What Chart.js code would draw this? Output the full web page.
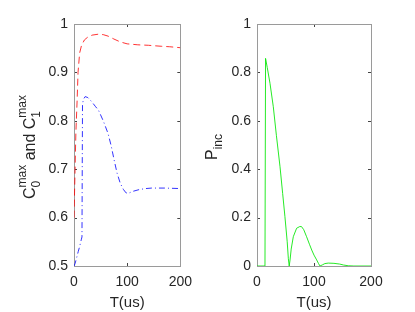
<!DOCTYPE html>
<html>
<head>
<meta charset="utf-8">
<script src="https://cdn.jsdelivr.net/npm/chart.js@4.4.0/dist/chart.umd.min.js"></script>
<style>
    html, body { margin: 0; padding: 0; background: #fff; }
    #wrap { position: relative; width: 415px; height: 312px; }
    .box { position: absolute; top: 0; height: 312px; }
</style>
</head>
<body>
<div id="wrap">
    <div class="box" style="left:0;width:200px"><canvas id="chartC" width="200" height="312"></canvas></div>
    <div class="box" style="left:200px;width:215px"><canvas id="chartP" width="215" height="312"></canvas></div>
</div>
<script>
// C0max (red, dashed)
const c0T   = [0, 1.8, 3.5, 5.9, 7.6, 10.6, 14, 19.5, 26, 34, 46, 55, 64, 75, 87, 100, 120, 140, 164, 180, 200];
const c0Val = [0.6, 0.69, 0.775, 0.843, 0.9, 0.94, 0.955, 0.967, 0.973, 0.977, 0.979, 0.978, 0.975, 0.969, 0.963, 0.959, 0.957, 0.956, 0.954, 0.953, 0.951];

// C1max (blue, dash-dot)
const c1T   = [0, 2, 4.7, 8, 10.6, 13.6, 15, 15.5, 16, 18, 21, 26, 33, 40, 46, 55, 64, 70, 75.5, 81, 87, 93, 98, 102, 110, 123, 135, 146, 170, 200];
const c1Val = [0.5, 0.505, 0.516, 0.53, 0.54, 0.554, 0.56, 0.7, 0.835, 0.845, 0.85, 0.848, 0.84, 0.83, 0.822, 0.8, 0.774, 0.748, 0.719, 0.692, 0.671, 0.658, 0.651, 0.65, 0.654, 0.658, 0.66, 0.661, 0.661, 0.66];

// Pinc (green)
const pT   = [0, 14, 15, 18, 22.8, 28.6, 34, 40.4, 45, 49, 53, 55, 56.5, 58, 60, 63.7, 69.5, 75, 78, 82, 87, 92, 96, 100, 104.7, 108, 110.5, 115, 119, 125, 135, 145, 152, 160, 170, 200];
const pVal = [0, 0, 0.858, 0.82, 0.755, 0.658, 0.54, 0.41, 0.3, 0.204, 0.1, 0.03, 0, 0.025, 0.07, 0.121, 0.156, 0.163, 0.163, 0.15, 0.121, 0.09, 0.066, 0.045, 0.025, 0.01, 0, 0.005, 0.01, 0.012, 0.011, 0.008, 0.004, 0.001, 0, 0];

// tick labels
const xTicks = [0, 100, 200];
const cTicks = [0.5, 0.6, 0.7, 0.8, 0.9, 1];
const pTicks = [0, 0.2, 0.4, 0.6, 0.8, 1];

const FONT = '"Liberation Sans", Arial, sans-serif';
const TXT = '#262626';

function toPoints(xs, ys) {
    return xs.map((x, i) => ({ x: x, y: ys[i] }));
}

// box + inward ticks, matlab style
const framePlugin = {
    id: 'frame',
    beforeDatasetsDraw(chart) {
        const ctx = chart.ctx, a = chart.chartArea;
        const xs = chart.scales.x, ys = chart.scales.y;
        ctx.save();
        ctx.strokeStyle = '#444';
        ctx.lineWidth = 1;
        ctx.beginPath();
        xs.ticks.forEach(t => {
            const px = Math.round(xs.getPixelForValue(t.value)) + 0.5;
            ctx.moveTo(px, a.bottom); ctx.lineTo(px, a.bottom - 3);
            ctx.moveTo(px, a.top); ctx.lineTo(px, a.top + 3);
        });
        ys.ticks.forEach(t => {
            const py = Math.round(ys.getPixelForValue(t.value)) + 0.5;
            ctx.moveTo(a.left, py); ctx.lineTo(a.left + 3, py);
            ctx.moveTo(a.right, py); ctx.lineTo(a.right - 3, py);
        });
        ctx.stroke();
        ctx.strokeStyle = '#9a9a9a';
        ctx.strokeRect(Math.round(a.left) + 0.5, Math.round(a.top) + 0.5,
            Math.round(a.right - a.left), Math.round(a.bottom - a.top));
        ctx.restore();
    }
};

// rotated y label with sub/superscripts
function drawYLabel(chart, baseX, segs) {
    const ctx = chart.ctx, a = chart.chartArea;
    const big = '16px ' + FONT;
    const small = '12px ' + FONT;
    ctx.save();
    let total = 0;
    segs.forEach(s => {
        ctx.font = big;
        s.w = ctx.measureText(s.t).width;
        ctx.font = small;
        s.w2 = Math.max(s.sub ? ctx.measureText(s.sub).width : 0, s.sup ? ctx.measureText(s.sup).width : 0);
        total += s.w + s.w2;
    });
    ctx.translate(baseX, (a.top + a.bottom) / 2 + 2);
    ctx.rotate(-Math.PI / 2);
    ctx.fillStyle = TXT;
    ctx.textAlign = 'left';
    ctx.textBaseline = 'alphabetic';
    let x = -total / 2;
    segs.forEach(s => {
        ctx.font = big;
        ctx.fillText(s.t, x, 0);
        x += s.w;
        ctx.font = small;
        if (s.sub) ctx.fillText(s.sub, x, 5);
        if (s.sup) ctx.fillText(s.sup, x, -9);
        x += s.w2;
    });
    ctx.restore();
}

function makeChart(id, datasets, yTicks, axisW, padRight, label) {
    const yMin = yTicks[0], yMax = yTicks[yTicks.length - 1];
    return new Chart(document.getElementById(id), {
        type: 'line',
        data: { datasets: datasets },
        options: {
            responsive: false,
            animation: false,
            layout: { padding: { top: 24, right: padRight, left: 0, bottom: 0 } },
            plugins: { legend: { display: false }, tooltip: { enabled: false } },
            elements: { point: { radius: 0 }, line: { tension: 0, borderWidth: 1 } },
            scales: {
                x: {
                    type: 'linear', min: 0, max: 200,
                    afterBuildTicks: s => { s.ticks = xTicks.map(v => ({ value: v })); },
                    afterFit: s => { s.height = 46; },
                    grid: { display: false, drawTicks: false },
                    border: { display: false },
                    ticks: { padding: 8, color: TXT, font: { size: 14, family: FONT }, maxRotation: 0 },
                    title: { display: true, text: 'T(us)', color: TXT, font: { size: 15, family: FONT }, padding: { top: 0, bottom: 0 } }
                },
                y: {
                    type: 'linear', min: yMin, max: yMax,
                    afterBuildTicks: s => { s.ticks = yTicks.map(v => ({ value: v })); },
                    afterFit: s => { s.width = axisW; },
                    grid: { display: false, drawTicks: false },
                    border: { display: false },
                    ticks: { padding: 6, color: TXT, font: { size: 14, family: FONT },
                        callback: v => String(+Number(v).toFixed(1)) }
                }
            }
        },
        plugins: [framePlugin, {
            id: 'ylabel',
            afterDraw(chart) { drawYLabel(chart, label.x, label.segs); }
        }]
    });
}

makeChart('chartC', [
    { data: toPoints(c0T, c0Val), borderColor: 'rgba(255,0,0,0.8)', borderDash: [7, 4] },
    { data: toPoints(c1T, c1Val), borderColor: 'rgba(0,0,255,0.8)', borderDash: [6, 3, 1, 3] }
], cTicks, 74, 13, {
    x: 35,
    segs: [{ t: 'C', sub: '0', sup: 'max' }, { t: ' and C', sub: '1', sup: 'max' }]
});

makeChart('chartP', [
    { data: toPoints(pT, pVal), borderColor: 'rgba(0,230,0,0.85)' }
], pTicks, 57, 44, {
    x: 17,
    segs: [{ t: 'P', sub: 'inc' }]
});
</script>
</body>
</html>
